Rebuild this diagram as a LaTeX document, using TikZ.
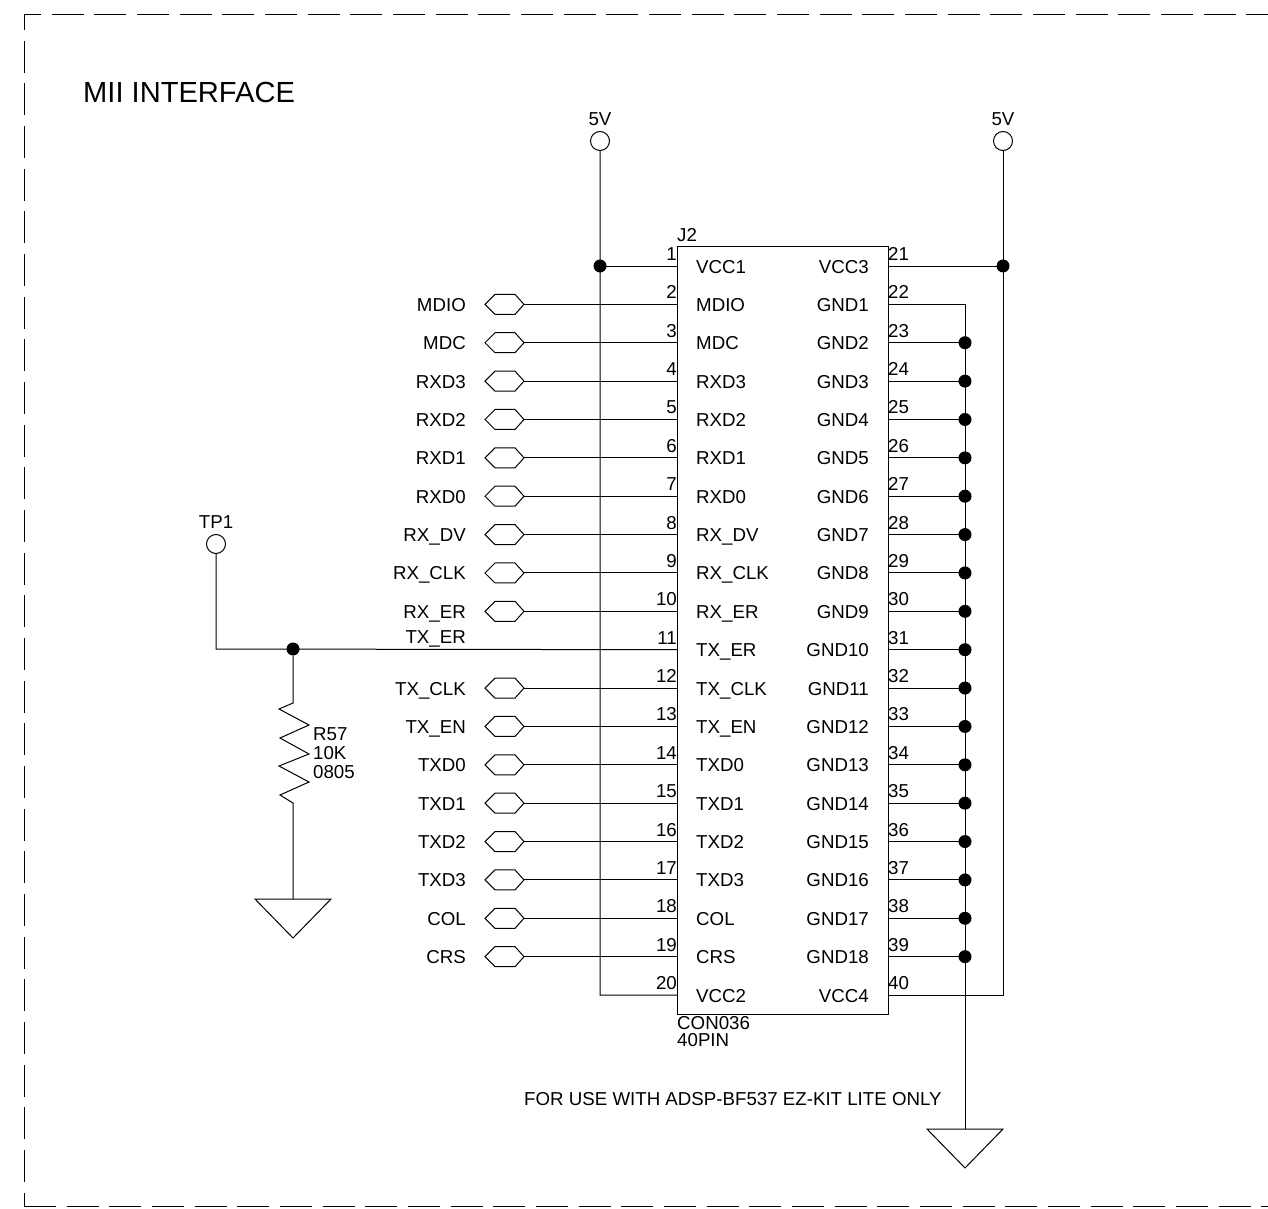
\documentclass[tikz,border=0pt]{standalone}
\usepackage{fontspec}
\setmainfont{Liberation Sans}
\newcommand{\lbl}{\fontsize{18.7}{20}\selectfont}
\tikzset{
  wire/.style={draw=black,line width=1pt},
  border/.style={draw=black,line width=1pt,dash pattern=on 32pt off 10.67pt},
  joint/.style={circle,fill=black,inner sep=0pt,minimum size=13pt},
  testpoint/.style={circle,draw=black,fill=white,line width=1pt,inner sep=0pt,minimum size=19pt},
  chip/.style={rectangle,draw=black,line width=1pt,inner sep=0pt,minimum width=211pt,minimum height=768pt},
  txt/.style={font=\lbl,inner sep=0pt,text=black},
  gndsym/.style={draw=black,line width=1pt,line join=miter},
  hexport/.style={draw=black,line width=1pt},
}
\begin{document}
\begin{tikzpicture}[x=1pt,y=-1pt]
\useasboundingbox (0,0) rectangle (1268,1209);
% frame
\draw[border,dash phase=17pt] (24,15) -- (24,1206);
\draw[border,dash phase=15pt] (24,15) -- (1268,15);
\draw[border] (24,1206) -- (1268,1206);
\node[txt,font=\fontsize{29.1}{32}\selectfont,anchor=base west] (title) at (83,103) {MII INTERFACE};
% connector
\node[chip] (J2) at (782.5,630) {};
\node[txt,anchor=base west] (refJ) at (677,241) {J2};
\node[txt,anchor=base west] (partA) at (677,1029) {CON036};
\node[txt,anchor=base west] (partB) at (677,1046) {40PIN};
\node[txt,anchor=base west] (note) at (524,1105) {FOR USE WITH ADSP-BF537 EZ-KIT LITE ONLY};
% power
\node[testpoint] (vl) at (600,141) {};
\node[testpoint] (vr) at (1003,141) {};
\node[txt,anchor=base] (vlt) at (600,126) {5V};
\node[txt,anchor=base] (vrt) at (1003,126) {5V};
% pin coordinates and labels
\foreach \n [count=\i] in {VCC1,MDIO,MDC,RXD3,RXD2,RXD1,RXD0,RX\_DV,RX\_CLK,RX\_ER,TX\_ER,TX\_CLK,TX\_EN,TXD0,TXD1,TXD2,TXD3,COL,CRS,VCC2}{
  \pgfmathsetmacro{\py}{266+38.37*(\i-1)}
  \coordinate (L\i) at (677,\py);
  \node[txt,anchor=base west] (ln\i) at (696,\py+7) {\n};
  \node[txt,anchor=base east] (lp\i) at (677,\py-5.5) {\i};
}
\foreach \n [count=\i from 21] in {VCC3,GND1,GND2,GND3,GND4,GND5,GND6,GND7,GND8,GND9,GND10,GND11,GND12,GND13,GND14,GND15,GND16,GND17,GND18,VCC4}{
  \pgfmathsetmacro{\py}{266+38.37*(\i-21)}
  \coordinate (R\i) at (888,\py);
  \coordinate (B\i) at (965,\py);
  \coordinate (P\i) at (1003,\py);
  \node[txt,anchor=base east] (rn\i) at (869,\py+7) {\n};
  \node[txt,anchor=base west] (rp\i) at (888,\py-5.5) {\i};
}
% left signals with off-page ports
\foreach \n/\i in {MDIO/2,MDC/3,RXD3/4,RXD2/5,RXD1/6,RXD0/7,RX\_DV/8,RX\_CLK/9,RX\_ER/10,TX\_CLK/12,TX\_EN/13,TXD0/14,TXD1/15,TXD2/16,TXD3/17,COL/18,CRS/19}{
  \pgfmathsetmacro{\py}{266+38.37*(\i-1)}
  \coordinate (H\i) at (524,\py);
  \draw[hexport] (H\i) -- ++(-9,-10) -- ++(-20,0) -- ++(-10,10) -- ++(10,10) -- ++(20,0) -- cycle;
  \draw[wire] (H\i) -- (L\i);
  \node[txt,anchor=base east] (sig\i) at (466,\py+7) {\n};
}
% VCC rails
\coordinate (LB1) at (600,266);
\coordinate (LB20) at (600,995);
\draw[wire] (vl) -- (LB1) -- (LB20) -- (L20);
\draw[wire] (LB1) -- (L1);
\node[joint] (jl) at (LB1) {};
\draw[wire] (vr) -- (P21) -- (P40) -- (R40);
\draw[wire] (R21) -- (P21);
\node[joint] (jr) at (P21) {};
% ground bus
\coordinate (gb) at (965,1129);
\draw[wire] (R22) -- (B22) -- (gb);
\foreach \i in {23,...,39}{
  \draw[wire] (R\i) -- (B\i);
  \node[joint] (jg\i) at (B\i) {};
}
\draw[gndsym] (gb) -- ++(-38,0) -- ++(38,39) -- ++(38,-39) -- cycle;
% TP1
\node[testpoint] (tp) at (216,544) {};
\node[txt,anchor=base] (tpt) at (216,528.5) {TP1};
\coordinate (tc) at (216,649);
\node[joint] (jt) at (293,649) {};
\draw[wire] (tp) -- (tc) -- (L11);
\node[txt,anchor=base east] (sig11) at (466,643) {TX\_ER};
% resistor
\coordinate (ra) at (293,703);
\coordinate (rb) at (293,803);
\coordinate (ga) at (293,899);
\draw[wire] (jt) -- (ra) -- (279,709) -- (309,725) -- (280,738) -- (309,754) -- (279,766) -- (309,782) -- (280,795) -- (rb) -- (ga);
\draw[gndsym] (ga) -- ++(-38,0) -- ++(38,39) -- ++(38,-39) -- cycle;
\node[txt,anchor=base west] (r1) at (313,740) {R57};
\node[txt,anchor=base west] (r2) at (313,759) {10K};
\node[txt,anchor=base west] (r3) at (313,778) {0805};
\end{tikzpicture}
\end{document}
